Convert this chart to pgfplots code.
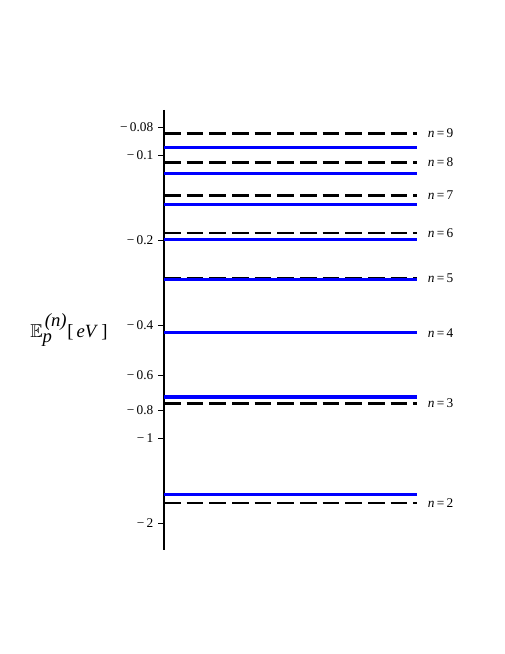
\documentclass[border=0pt]{standalone}
\usepackage{amssymb}
\usepackage{fontspec}
\setmainfont{Liberation Serif}
\usepackage{pgfplots}
\pgfplotsset{compat=1.18}

\definecolor{lvlblue}{RGB}{0,0,255}

\begin{document}
\begin{tikzpicture}[
    lvl/.style={lvlblue, line width=2.3pt},
    dsh/.style={black, line width=1.8pt, dash pattern=on 12.5pt off 4.5pt},
    lab/.style={anchor=west, font=\fontsize{10}{12}\selectfont, inner sep=0pt, xshift=8pt}]
\useasboundingbox (0pt,0pt) rectangle (378.75pt,490.5pt);
\begin{axis}[
    at={(123pt,78pt)}, anchor=south west,
    scale only axis,
    width=189.75pt, height=330pt,
    xmin=0, xmax=1,
    ymode=log, y dir=reverse,
    ymin=0.0693, ymax=2.488,
    axis x line=none,
    axis y line*=left,
    ytick={0.08,0.1,0.2,0.4,0.6,0.8,1,2},
    yticklabels={−\,0.08,−\,0.1,−\,0.2,−\,0.4,−\,0.6,−\,0.8,−\,1,−\,2},
    minor ytick={},
    tick align=outside,
    major tick length=4.5pt,
    tick style={black, line width=0.6pt},
    axis line style={black, line width=0.8pt},
    tick label style={font=\fontsize{10}{12}\selectfont},
    clip=false,
]
% |E| in eV on a reversed log axis; labels show the negative energies
\addplot[dsh] coordinates {(0,1.7) (1,1.7)};
\addplot[dsh] coordinates {(0,0.7556) (1,0.7556)};
\addplot[dsh] coordinates {(0,0.425) (1,0.425)};
\addplot[dsh] coordinates {(0,0.272) (1,0.272)};
\addplot[dsh] coordinates {(0,0.1889) (1,0.1889)};
\addplot[dsh] coordinates {(0,0.1388) (1,0.1388)};
\addplot[dsh] coordinates {(0,0.10625) (1,0.10625)};
\addplot[dsh] coordinates {(0,0.08395) (1,0.08395)};

\addplot[lvl] coordinates {(0,1.581) (1,1.581)};
\addplot[lvl] coordinates {(0,0.7162) (1,0.7162)};
\addplot[lvl] coordinates {(0,0.4245) (1,0.4245)};
\addplot[lvl] coordinates {(0,0.2758) (1,0.2758)};
\addplot[lvl] coordinates {(0,0.1986) (1,0.1986)};
\addplot[lvl] coordinates {(0,0.1498) (1,0.1498)};
\addplot[lvl] coordinates {(0,0.1161) (1,0.1161)};
\addplot[lvl] coordinates {(0,0.0939) (1,0.0939)};

\node[lab] at (axis cs:1,1.7) {\textit{n}\,=\,2};
\node[lab] at (axis cs:1,0.7556) {\textit{n}\,=\,3};
\node[lab] at (axis cs:1,0.425) {\textit{n}\,=\,4};
\node[lab] at (axis cs:1,0.272) {\textit{n}\,=\,5};
\node[lab] at (axis cs:1,0.1889) {\textit{n}\,=\,6};
\node[lab] at (axis cs:1,0.1388) {\textit{n}\,=\,7};
\node[lab] at (axis cs:1,0.10625) {\textit{n}\,=\,8};
\node[lab] at (axis cs:1,0.08395) {\textit{n}\,=\,9};
\end{axis}
\node[anchor=west, inner sep=0pt, font=\fontsize{14}{16}\selectfont] at (22.5pt,243pt)
  {$\mathbb{E}_{\textit{p}}^{\,\textit{(n)}}$[\,\textit{eV}\,]};
\end{tikzpicture}
\end{document}
